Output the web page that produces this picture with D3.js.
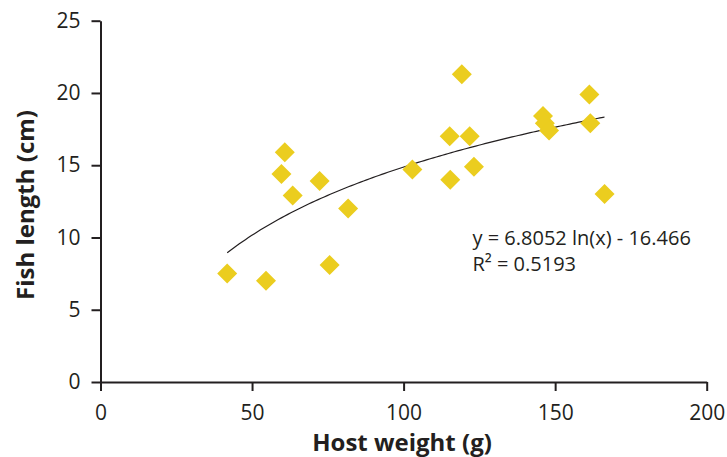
<!DOCTYPE html>
<html>
<head>
<meta charset="utf-8">
<script src="https://cdn.jsdelivr.net/npm/d3@7"></script>
<style>
  html, body { margin: 0; padding: 0; background: #fff; }
  svg { display: block; }
  text { font-family: "Open Sans", "Noto Sans", sans-serif; fill: #231f20; }
</style>
</head>
<body>
<svg id="chart" width="727" height="457"></svg>
<script>
// ---- data ----
const hostWeight = [41.8, 54.6, 75.6, 81.7, 60.8, 59.7, 63.4, 72.3, 102.9, 115.2, 115.4, 119.2, 121.8, 123.2, 146.0, 146.6, 148.0, 161.3, 161.6, 166.3];
const fishLength = [7.5, 7.0, 8.1, 12.0, 15.9, 14.4, 12.9, 13.9, 14.7, 17.0, 14.0, 21.3, 17.0, 14.9, 18.4, 17.9, 17.4, 19.9, 17.9, 13.0];
const xTicks = [0, 50, 100, 150, 200];
const yTicks = [0, 5, 10, 15, 20, 25];
const fitCoef = [6.8052, -16.466]; // y = a ln(x) + b
const equationLines = ["y = 6.8052 ln(x) - 16.466", "R² = 0.5193"];
const xTitle = "Host weight (g)";
const yTitle = "Fish length (cm)";

// ---- layout ----
const svg = d3.select("#chart");
const x = d3.scaleLinear().domain([0, 200]).range([100.5, 706.7]);
const y = d3.scaleLinear().domain([0, 25]).range([382, 20.7]);
const axisColor = "#231f20";

// axes
const xAxis = svg.append("g").attr("transform", `translate(0,${y(0)})`)
  .call(d3.axisBottom(x).tickValues(xTicks).tickSize(9).tickSizeOuter(0).tickPadding(14));
const yAxis = svg.append("g").attr("transform", `translate(${x(0)},0)`)
  .call(d3.axisLeft(y).tickValues(yTicks).tickSize(9).tickSizeOuter(0).tickPadding(11));
[xAxis, yAxis].forEach(g => {
  g.selectAll("path.domain").attr("stroke", axisColor).attr("stroke-width", 2);
  g.selectAll(".tick line").attr("stroke", axisColor).attr("stroke-width", 2);
  g.selectAll(".tick text").attr("font-size", 21).attr("font-family", '"Open Sans", sans-serif').attr("fill", axisColor);
});

// trend line from equation over data range
const xMin = d3.min(hostWeight), xMax = d3.max(hostWeight);
const fitX = d3.range(xMin, xMax, 1).concat([xMax]);
svg.append("path")
  .datum(fitX)
  .attr("fill", "none")
  .attr("stroke", "#231f20")
  .attr("stroke-width", 1.2)
  .attr("d", d3.line().x(d => x(d)).y(d => y(fitCoef[0] * Math.log(d) + fitCoef[1])));

// points (diamonds)
const diamond = d3.symbol().type(d3.symbolSquare).size(200);
svg.append("g").selectAll("path")
  .data(hostWeight.map((w, i) => [w, fishLength[i]]))
  .join("path")
  .attr("d", diamond)
  .attr("fill", "#ebcd1f")
  .attr("transform", d => `translate(${x(d[0])},${y(d[1])}) rotate(45)`);

// equation
const eq = svg.append("text").attr("x", 472.5).attr("y", 245).attr("font-size", 20);
equationLines.forEach((t, i) => {
  eq.append("tspan").attr("x", 472.5).attr("y", 245 + i * 25.7).text(t);
});

// titles
svg.append("text")
  .attr("x", 402).attr("y", 451)
  .attr("text-anchor", "middle")
  .attr("font-size", 24).attr("font-weight", "bold")
  .text(xTitle);
svg.append("text")
  .attr("transform", "translate(34,205) rotate(-90)")
  .attr("text-anchor", "middle")
  .attr("font-size", 24).attr("font-weight", "bold")
  .text(yTitle);
</script>
</body>
</html>
